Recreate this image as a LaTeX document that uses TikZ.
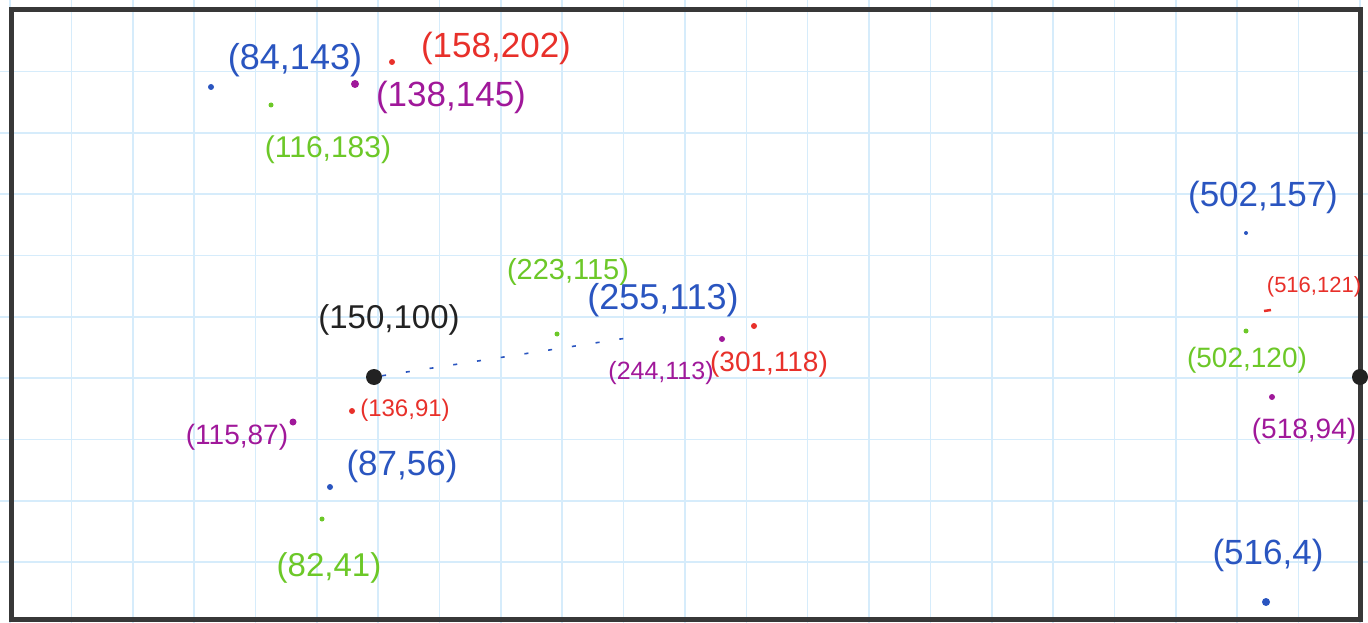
\documentclass[tikz,border=0pt]{standalone}
\usepackage{fontspec}
\setmainfont{Liberation Sans}
\definecolor{gridc}{HTML}{D6ECFB}
\definecolor{cblue}{HTML}{2A55C0}
\definecolor{cred}{HTML}{E8302A}
\definecolor{cpurp}{HTML}{A0189A}
\definecolor{cgreen}{HTML}{6CC828}
\definecolor{cblack}{HTML}{222222}
\definecolor{border}{HTML}{383838}
\tikzset{
  pt/.style={circle,fill=#1,inner sep=0pt,minimum size=6pt},
  lbl/.style={text=#1,inner sep=0pt},
}
\newcommand{\fs}[1]{\fontsize{#1}{#1}\selectfont}
\begin{document}
\begin{tikzpicture}[x=1pt,y=-1pt]
\useasboundingbox (0,0) rectangle (1368,623);
\fill[white] (0,0) rectangle (1368,623);
% grid
\foreach \k in {0,...,22} {
  \draw[gridc,line width=1.6pt] ({10+61.36*\k},0) -- ({10+61.36*\k},623);
}
\foreach \k in {1,...,10} {
  \draw[gridc,line width=1.6pt] (0,{10+61.36*\k}) -- (1368,{10+61.36*\k});
}
% border
\draw[border,line width=5pt] (11,10) rectangle (1360,619);
% black half dot at right border
\fill[cblack] (1360,377) circle (8);

% top-left cluster
\node[pt=cblue] (p1) at (211,87) {};
\node[lbl=cblue] (l1) at (295,60) {\fs{36}(84,143)};
\node[pt=cred] (p2) at (392,62) {};
\node[lbl=cred] (l2) at (496,48) {\fs{35}(158,202)};
\node[pt=cpurp,minimum size=8pt] (p3) at (355,84) {};
\node[lbl=cpurp] (l3) at (451,97) {\fs{35}(138,145)};
\node[pt=cgreen,minimum size=5pt] (p4) at (271,105) {};
\node[lbl=cgreen] (l4) at (328,150) {\fs{30}(116,183)};

% center
\node[pt=cblack,minimum size=16pt] (c) at (374,377) {};
\node[lbl=cblack] (lc) at (389,320) {\fs{33}(150,100)};
\coordinate (ce) at (640,336);
\draw[cblue,line width=1.6pt,dash pattern=on 4pt off 20pt] (c) -- (ce);

\node[pt=cgreen,minimum size=5pt] (p5) at (557,334) {};
\node[lbl=cgreen] (l5) at (568,272) {\fs{29}(223,115)};
\node[lbl=cblue] (l6) at (663,300) {\fs{36}(255,113)};
\node[pt=cpurp,minimum size=6pt] (p7) at (722,339) {};
\node[lbl=cpurp] (l7) at (661,373) {\fs{25}(244,113)};
\node[pt=cred,minimum size=6pt] (p8) at (754,326) {};
\node[lbl=cred] (l8) at (769,364) {\fs{28}(301,118)};

% lower-left cluster
\node[pt=cred,minimum size=6pt] (p9) at (352,411) {};
\node[lbl=cred] (l9) at (405,410) {\fs{24}(136,91)};
\node[pt=cpurp,minimum size=7pt] (p10) at (293,422) {};
\node[lbl=cpurp] (l10) at (237,437) {\fs{28}(115,87)};
\node[pt=cblue,minimum size=6pt] (p11) at (330,487) {};
\node[lbl=cblue] (l11) at (402,466) {\fs{35}(87,56)};
\node[pt=cgreen,minimum size=5pt] (p12) at (322,519) {};
\node[lbl=cgreen] (l12) at (329,568) {\fs{33}(82,41)};

% right cluster
\node[lbl=cblue] (l13) at (1263,197) {\fs{35}(502,157)};
\node[pt=cblue,minimum size=4pt] (p13) at (1246,233) {};
\node[lbl=cred] (l14) at (1314,287) {\fs{22}(516,121)};
\draw[cred,line width=2.5pt] (1264,311) -- (1271,310);
\coordinate (p14) at (1267,310);
\node[pt=cgreen,minimum size=5pt] (p15) at (1246,331) {};
\node[lbl=cgreen] (l15) at (1247,360) {\fs{28}(502,120)};
\node[pt=cpurp,minimum size=6pt] (p16) at (1272,397) {};
\node[lbl=cpurp] (l16) at (1304,431) {\fs{28}(518,94)};
\node[lbl=cblue] (l17) at (1268,555) {\fs{35}(516,4)};
\node[pt=cblue,minimum size=8pt] (p17) at (1266,602) {};
\end{tikzpicture}
\end{document}
